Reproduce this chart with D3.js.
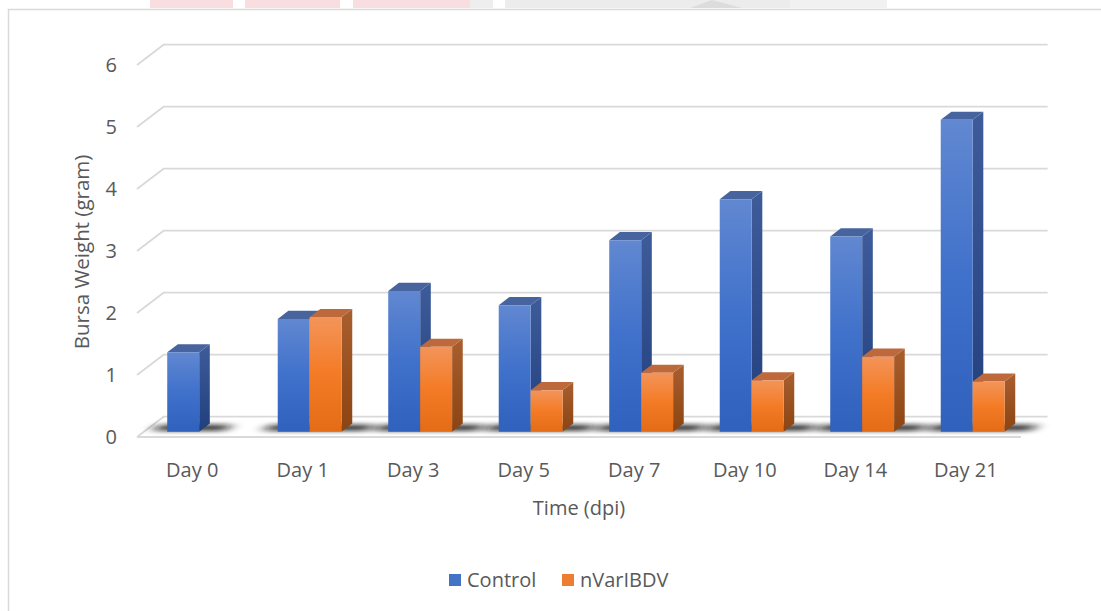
<!DOCTYPE html>
<html>
<head>
<meta charset="utf-8">
<script src="https://cdn.jsdelivr.net/npm/d3@7"></script>
<style>
  html, body { margin: 0; padding: 0; background: #ffffff; }
  svg { display: block; }
  text { font-family: "Open Sans", Lato, sans-serif; fill: #595959; }
</style>
</head>
<body>
<svg id="chart" width="1101" height="611"></svg>
<script>
// Bursa weight over time, control vs. nVarIBDV-infected birds
const days = ["Day 0", "Day 1", "Day 3", "Day 5", "Day 7", "Day 10", "Day 14", "Day 21"];
const seriesNames = ["Control", "nVarIBDV"];
const controlValues = [1.28, 1.82, 2.27, 2.04, 3.09, 3.75, 3.15, 5.03];
const nvarValues = [null, 1.85, 1.37, 0.67, 0.95, 0.83, 1.21, 0.81];
const yTicks = [0, 1, 2, 3, 4, 5, 6];

const svg = d3.select("#chart");
const W = 1101, H = 611;

// chart frame
svg.append("rect").attr("x", 0).attr("y", 0).attr("width", W).attr("height", H).attr("fill", "#fff");

// faint header strip along the top edge
const header = svg.append("g");
[[150, 233, "#f8dde1"], [245, 340, "#f8dde1"], [353, 470, "#f8dde1"], [470, 493, "#eeeeee"],
 [505, 790, "#ececec"], [790, 887, "#f1f1f1"]].forEach(([a, b, c]) => {
  header.append("rect").attr("x", a).attr("y", 0).attr("width", b - a).attr("height", 8).attr("fill", c);
});
header.append("path").attr("d", "M690,8 L712,0 L742,8 Z").attr("fill", "#dcdcdc");

svg.append("path")
  .attr("d", `M8.5,${H + 2} L8.5,9.5 L${W + 2},9.5`)
  .attr("fill", "none").attr("stroke", "#d9d9d9").attr("stroke-width", 1.5);

// 3D projection: depth vector from the front of the floor to the back wall
const DX = 26.6, DY = -20.3;
const x0 = d3.scaleBand().domain(days).range([137, 1021]).padding(0);
const x1 = d3.scaleBand().domain(seriesNames).range([0, x0.bandwidth()]).paddingInner(0).paddingOuter(0.73);
const y = d3.scaleLinear().domain([0, 6]).range([437, 65]);
const P = (x, v, f) => [x + DX * f, y(v) + DY * f];
const ptStr = pts => pts.map(p => p.join(",")).join(" ");

// gridlines: diagonal on the side wall, then horizontal on the back wall
const grid = svg.append("g");
yTicks.forEach(t => {
  const a = P(x0.range()[0], t, 0), b = P(x0.range()[0], t, 1), c = P(x0.range()[1], t, 1);
  grid.append("path")
    .attr("d", `M${a[0]},${a[1]} L${b[0]},${b[1]} L${c[0]},${c[1]}`)
    .attr("fill", "none").attr("stroke", "#d9d9d9").attr("stroke-width", 1.8);
});
// floor front edge
{
  const a = P(x0.range()[0], 0, 0), b = P(x0.range()[1], 0, 0);
  grid.append("line").attr("x1", a[0]).attr("y1", a[1]).attr("x2", b[0]).attr("y2", b[1])
    .attr("stroke", "#d9d9d9").attr("stroke-width", 1.8);
}

// tick labels
svg.append("g").selectAll("text").data(yTicks).join("text")
  .attr("x", x0.range()[0] - 20).attr("y", d => y(d)).attr("dy", "0.35em")
  .attr("text-anchor", "end").attr("font-size", 20).text(d => d);

// gradients
const defs = svg.append("defs");
function vgrad(id, stops) {
  const g = defs.append("linearGradient").attr("id", id).attr("x1", 0).attr("y1", 0).attr("x2", 0).attr("y2", 1);
  stops.forEach(([o, c]) => g.append("stop").attr("offset", o).attr("stop-color", c));
}
vgrad("blueFront", [[0, "#6188d1"], [0.5, "#4071cb"], [1, "#2f61bd"]]);
vgrad("blueSide", [[0, "#3e5c99"], [1, "#203f7c"]]);
vgrad("orangeFront", [[0, "#f3945a"], [0.5, "#f47b25"], [1, "#e56c16"]]);
vgrad("orangeSide", [[0, "#a95e2e"], [1, "#8b4412"]]);
const palette = {
  "Control": { front: "url(#blueFront)", side: "url(#blueSide)", top: "#47649f" },
  "nVarIBDV": { front: "url(#orangeFront)", side: "url(#orangeSide)", top: "#bd693b" }
};

const shadowBlur = defs.append("filter").attr("id", "shadowBlur")
  .attr("x", "-50%").attr("y", "-200%").attr("width", "200%").attr("height", "500%");
shadowBlur.append("feGaussianBlur").attr("stdDeviation", "7 2.2");

const rows = days.map((d, i) => ({
  day: d,
  values: [
    { key: "Control", value: controlValues[i] },
    { key: "nVarIBDV", value: nvarValues[i] }
  ].filter(e => e.value != null)
}));

const F1 = 0.26, F2 = 0.66;

// soft floor shadows beneath each group of columns
svg.append("g").selectAll("polygon").data(rows).join("polygon")
  .attr("points", r => {
    const left = x0(r.day) + x1(r.values[0].key) - 16;
    const right = x0(r.day) + x1(r.values[r.values.length - 1].key) + x1.bandwidth() + 24;
    return ptStr([P(left, 0, 0.3), P(right, 0, 0.3), P(right, 0, 0.62), P(left, 0, 0.62)]);
  })
  .attr("fill", "#111").attr("opacity", 0.8).attr("filter", "url(#shadowBlur)");

// columns
const cols = svg.append("g");
rows.forEach(r => {
  r.values.forEach(e => {
    const a = x0(r.day) + x1(e.key), w = x1.bandwidth(), v = e.value, c = palette[e.key];
    const g = cols.append("g");
    g.append("polygon").attr("fill", c.side)
      .attr("points", ptStr([P(a + w, 0, F1), P(a + w, v, F1), P(a + w, v, F2), P(a + w, 0, F2)]));
    g.append("polygon").attr("fill", c.top)
      .attr("points", ptStr([P(a, v, F1), P(a + w, v, F1), P(a + w, v, F2), P(a, v, F2)]));
    g.append("polygon").attr("fill", c.front)
      .attr("points", ptStr([P(a, v, F1), P(a + w, v, F1), P(a + w, 0, F1), P(a, 0, F1)]));
  });
});

// category labels
svg.append("g").selectAll("text").data(days).join("text")
  .attr("x", d => x0(d) + x0.bandwidth() / 2).attr("y", 470).attr("dy", "0.35em")
  .attr("text-anchor", "middle").attr("font-size", 20).text(d => d);

// axis titles
svg.append("text").attr("x", (x0.range()[0] + x0.range()[1]) / 2).attr("y", 508).attr("dy", "0.35em")
  .attr("text-anchor", "middle").attr("font-size", 20).text("Time (dpi)");
svg.append("text").attr("transform", "translate(82,252) rotate(-90)").attr("dy", "0.35em")
  .attr("text-anchor", "middle").attr("font-size", 20.5).text("Bursa Weight (gram)");

// legend
const legendItems = [
  { key: "Control", color: "#4472c4", x: 449 },
  { key: "nVarIBDV", color: "#ed7d31", x: 562 }
];
const lg = svg.append("g").selectAll("g").data(legendItems).join("g")
  .attr("transform", d => `translate(${d.x},574)`);
lg.append("rect").attr("width", 12).attr("height", 12).attr("fill", d => d.color);
lg.append("text").attr("x", 18).attr("y", 6).attr("dy", "0.35em").attr("font-size", 20).text(d => d.key);
</script>
</body>
</html>
